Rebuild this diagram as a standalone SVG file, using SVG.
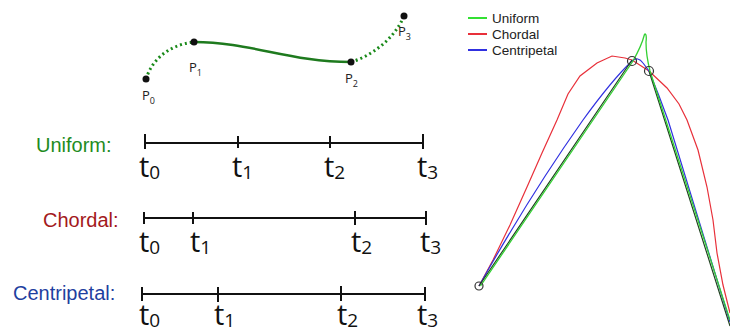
<svg xmlns="http://www.w3.org/2000/svg" width="730" height="333" viewBox="0 0 730 333">
<style>
.axis{stroke:#111;stroke-width:2.2;fill:none}
.tick{stroke:#111;stroke-width:2}
.tl{font-family:"Open Sans","Noto Sans",sans-serif;font-size:29px;fill:#111}
.ts{font-size:19px}
.lab{font-family:"Liberation Sans",Arial,sans-serif;font-size:20px}
.pl{font-family:"Open Sans","Noto Sans",sans-serif;font-size:13px;fill:#222}
.ps{font-size:9px}
.dot{fill:#111}
.leg{font-family:"Liberation Sans",Arial,sans-serif;font-size:13.5px;fill:#222}
.pc{fill:none;stroke:#333;stroke-width:1.2}
</style>
<rect width="730" height="333" fill="#fff"/>
<g id="curve">
<path d="M146,79 C152,60 168,45 194,42" fill="none" stroke="#1a8a1a" stroke-width="3" stroke-dasharray="2,3"/>
<path d="M194,42 C250,42 290,62 351,62" fill="none" stroke="#1e7a1e" stroke-width="2.5"/>
<path d="M351,62 C372,56 395,38 404,16" fill="none" stroke="#1a8a1a" stroke-width="3" stroke-dasharray="2,3"/>
<circle class="dot" cx="146" cy="79" r="3.5"/>
<circle class="dot" cx="194" cy="42" r="3.5"/>
<circle class="dot" cx="351" cy="62" r="3.5"/>
<circle class="dot" cx="404" cy="16" r="3.5"/>
<text class="pl" x="142" y="100">P<tspan class="ps" dy="4">0</tspan></text>
<text class="pl" x="189" y="72">P<tspan class="ps" dy="4">1</tspan></text>
<text class="pl" x="345" y="83">P<tspan class="ps" dy="4">2</tspan></text>
<text class="pl" x="398" y="36">P<tspan class="ps" dy="4">3</tspan></text>
</g>
<g id="uniform">
<text class="lab" x="36" y="152" fill="#1e8c1e">Uniform:</text>
<line class="axis" x1="145" y1="143" x2="423" y2="143"/>
<line class="tick" x1="145" y1="134" x2="145" y2="149"/>
<line class="tick" x1="238" y1="136" x2="238" y2="148"/>
<line class="tick" x1="330" y1="136" x2="330" y2="148"/>
<line class="tick" x1="423" y1="134" x2="423" y2="149"/>
<text class="tl" x="139" y="177">t<tspan class="ts" dy="2">0</tspan></text>
<text class="tl" x="232" y="177">t<tspan class="ts" dy="2">1</tspan></text>
<text class="tl" x="324" y="177">t<tspan class="ts" dy="2">2</tspan></text>
<text class="tl" x="417" y="177">t<tspan class="ts" dy="2">3</tspan></text>
</g>
<g id="chordal">
<text class="lab" x="43" y="227" fill="#a3191c">Chordal:</text>
<line class="axis" x1="144" y1="218" x2="426" y2="218"/>
<line class="tick" x1="144" y1="212" x2="144" y2="224"/>
<line class="tick" x1="193" y1="212" x2="193" y2="224"/>
<line class="tick" x1="355" y1="211" x2="355" y2="225"/>
<line class="tick" x1="426" y1="211" x2="426" y2="225"/>
<text class="tl" x="139" y="252">t<tspan class="ts" dy="2">0</tspan></text>
<text class="tl" x="190" y="252">t<tspan class="ts" dy="2">1</tspan></text>
<text class="tl" x="351" y="252">t<tspan class="ts" dy="2">2</tspan></text>
<text class="tl" x="420" y="252">t<tspan class="ts" dy="2">3</tspan></text>
</g>
<g id="centripetal">
<text class="lab" x="13" y="300" fill="#1f3fa0">Centripetal:</text>
<line class="axis" x1="142" y1="294" x2="425" y2="294"/>
<line class="tick" x1="142" y1="287" x2="142" y2="301"/>
<line class="tick" x1="218" y1="287" x2="218" y2="302"/>
<line class="tick" x1="341" y1="286" x2="341" y2="301"/>
<line class="tick" x1="425" y1="287" x2="425" y2="301"/>
<text class="tl" x="139" y="325">t<tspan class="ts" dy="2">0</tspan></text>
<text class="tl" x="214" y="325">t<tspan class="ts" dy="2">1</tspan></text>
<text class="tl" x="337" y="325">t<tspan class="ts" dy="2">2</tspan></text>
<text class="tl" x="417" y="325">t<tspan class="ts" dy="2">3</tspan></text>
</g>
<g id="plot">
<line x1="468" y1="18" x2="487" y2="18" stroke="#33e033" stroke-width="2"/>
<text class="leg" x="492" y="23">Uniform</text>
<line x1="468" y1="34" x2="487" y2="34" stroke="#e8303a" stroke-width="2"/>
<text class="leg" x="492" y="39">Chordal</text>
<line x1="468" y1="50" x2="487" y2="50" stroke="#3030e0" stroke-width="2"/>
<text class="leg" x="492" y="55">Centripetal</text>
<polyline points="479,286 493,260 510,225 527,187 542,153 557,120 568,94 580,76 597,63 612,56 625,58 632,60 649,71 667,88 679,104 687,120 698,150 707,187 713,220 717,253 723,285 730,313" fill="none" stroke="#e8303a" stroke-width="1.2"/>
<path d="M479,286 Q530,195 583,120 Q612,80 632,61 Q638,56 643,63 L649,71 Q659,95 668,120 L730,322" fill="none" stroke="#3030e0" stroke-width="1.2"/>
<path d="M479,286 L632,60 M649,71 L730,326" fill="none" stroke="#224422" stroke-width="1.2"/>
<path d="M480.5,286 L633,61 C638,52 642,44 644,36 C645,32 647,34 646,42 C646,52 648,63 650,71 L730,320" fill="none" stroke="#33d033" stroke-width="1.3"/>
<circle class="pc" cx="479" cy="286" r="4"/>
<circle class="pc" cx="632" cy="61" r="4.5"/>
<circle class="pc" cx="649" cy="71" r="4.5"/>
</g>
</svg>
